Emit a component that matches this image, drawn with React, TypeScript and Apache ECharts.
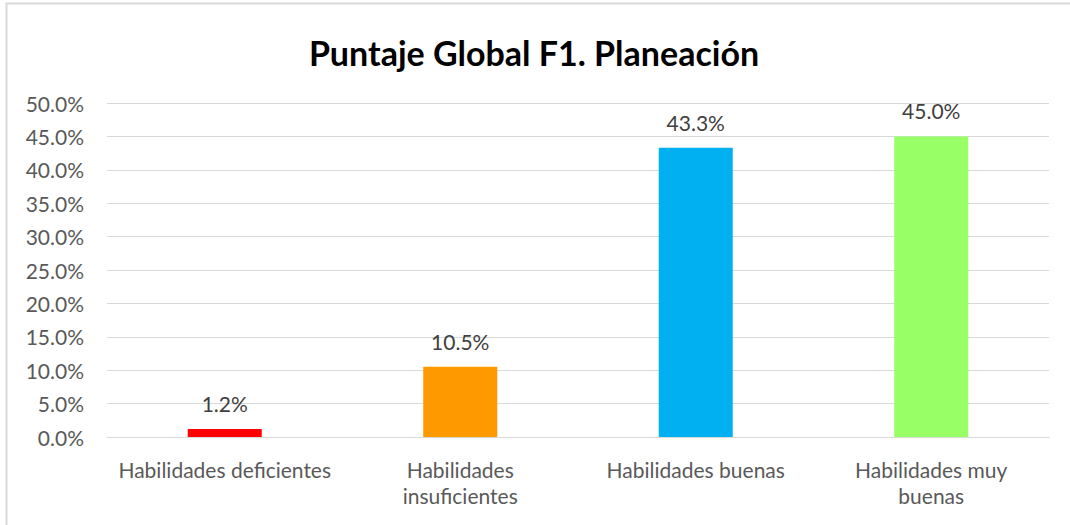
import React, { useEffect, useRef } from "react";
import * as echarts from "echarts";

const categories = [
  "Habilidades deficientes",
  "Habilidades insuficientes",
  "Habilidades buenas",
  "Habilidades muy buenas",
];
const tickLabels = [
  "Habilidades deficientes",
  "Habilidades\ninsuficientes",
  "Habilidades buenas",
  "Habilidades muy\nbuenas",
];
const values = [1.2, 10.5, 43.3, 45.0];
const barColors = ["#FF0000", "#FF9900", "#00B0F0", "#99FF66"];
const yTicks = { min: 0, max: 50, interval: 5 };
const titleText = "Puntaje Global F1. Planeación";

const FONT = "Lato, 'Open Sans', sans-serif";

export default function App() {
  const ref = useRef<HTMLDivElement>(null);
  useEffect(() => {
    if (!ref.current) return;
    const chart = echarts.init(ref.current, null, { renderer: "svg" });
    chart.setOption({
      animation: false,
      backgroundColor: "#ffffff",
      title: {
        text: titleText,
        left: 529,
        top: 30,
        textAlign: "center",
        textStyle: { fontFamily: FONT, fontSize: 34, fontWeight: "bold", color: "#000000" },
      },
      graphic: [
        {
          type: "rect",
          shape: { x: 6.5, y: 3.5, width: 1200, height: 700 },
          style: { fill: "none", stroke: "#d9d9d9", lineWidth: 2 },
          silent: true,
        },
      ],
      grid: { left: 107, right: 21, top: 103, bottom: 88, containLabel: false },
      xAxis: {
        type: "category",
        data: categories,
        axisTick: { show: false },
        axisLine: { show: true, lineStyle: { color: "#d9d9d9", width: 1 } },
        axisLabel: {
          interval: 0,
          margin: 19,
          color: "#595959",
          fontFamily: FONT,
          fontSize: 21,
          lineHeight: 26,
          formatter: (_v: string, i: number) => tickLabels[i],
        },
      },
      yAxis: {
        type: "value",
        min: yTicks.min,
        max: yTicks.max,
        interval: yTicks.interval,
        axisLine: { show: false },
        axisTick: { show: false },
        splitLine: { lineStyle: { color: "#d9d9d9", width: 1 } },
        axisLabel: {
          margin: 23,
          color: "#595959",
          fontFamily: FONT,
          fontSize: 21,
          formatter: (v: number) => v.toFixed(1) + "%",
        },
      },
      series: [
        {
          type: "bar",
          barWidth: 74,
          data: values.map((v, i) => ({ value: v, itemStyle: { color: barColors[i] } })),
          label: {
            show: true,
            position: "top",
            distance: 15,
            color: "#404040",
            fontFamily: FONT,
            fontSize: 21,
            formatter: (p: any) => Number(p.value).toFixed(1) + "%",
          },
        },
      ],
    });
    return () => chart.dispose();
  }, []);
  return (
    <div
      ref={ref}
      style={{ position: "absolute", left: 0, top: 0, width: 1070, height: 525 }}
    />
  );
}
